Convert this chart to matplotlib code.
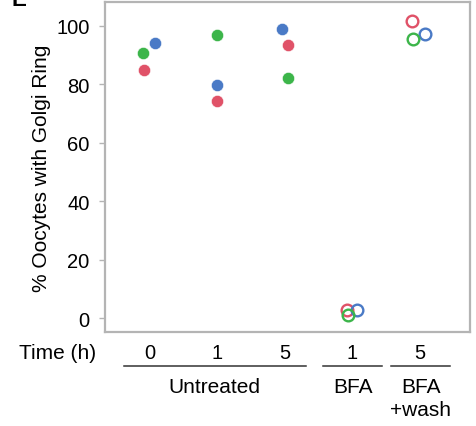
import matplotlib
matplotlib.use('Agg')
import matplotlib.pyplot as plt

plt.rcParams['font.family'] = ['Liberation Sans', 'DejaVu Sans']

# data
positions = [0, 1, 2, 3, 4]
time_labels = ['0', '1', '5', '1', '5']
blue = [94.2, 79.9, 99.0, 2.7, 97.3]
green = [90.8, 96.9, 82.2, 1.0, 95.6]
red = [85.0, 74.4, 93.5, 2.7, 101.8]
# horizontal jitter
blue_dx = [0.075, 0.0, -0.045, 0.075, 0.09]
green_dx = [-0.105, 0.0, 0.045, -0.06, -0.09]
red_dx = [-0.09, 0.0, 0.045, -0.075, -0.105]
filled = [True, True, True, False, False]
groups = [('Untreated', -0.39, 2.31), ('BFA', 2.57, 3.45), ('BFA\n+wash', 3.58, 4.46)]

colBlue = '#4a7ac6'
colGreen = '#3cb54a'
colRed = '#e05268'
colFrame = '#b4b4b4'
fs = 14.5

fig = plt.figure(figsize=(4.77, 4.27), dpi=100)
ax = fig.add_axes([0.220, 0.220, 0.765, 0.773])

for vals, dx, c in [(red, red_dx, colRed), (blue, blue_dx, colBlue), (green, green_dx, colGreen)]:
    for p, v, d, f in zip(positions, vals, dx, filled):
        if f:
            ax.plot(p + d, v, 'o', ms=8.8, color=c, mec='white', mew=0.4)
        else:
            ax.plot(p + d, v, 'o', ms=8.4, mfc='none', mec=c, mew=1.7)

ax.set_xlim(-0.67, 4.75)
ax.set_ylim(-4.8, 108.2)
ax.set_yticks([0, 20, 40, 60, 80, 100])
ax.set_xticks(positions, time_labels)
ax.tick_params(axis='x', length=0, pad=8, labelsize=fs)
ax.tick_params(axis='y', length=4, width=1, color=colFrame, labelsize=fs, pad=7)
for s in ax.spines.values():
    s.set_color(colFrame)
    s.set_linewidth(1.6)

ax.set_ylabel('% Oocytes with Golgi Ring', fontsize=fs + 0.5, labelpad=4)

tr = ax.get_xaxis_transform()
ax.text(-0.80, -0.061, 'Time (h)', transform=tr, ha='right', va='center', fontsize=fs + 0.5)
for name, x0, x1 in groups:
    ax.plot([x0, x1], [-0.103, -0.103], transform=tr, color='#333333', lw=1.1, clip_on=False)
    ax.text((x0 + x1) / 2, -0.135, name, transform=tr, ha='center', va='top',
            fontsize=fs + 0.5, linespacing=1.3)

fig.text(0.025, 1.0, 'E', fontsize=16, fontweight='bold', va='center', ha='left')

fig.savefig('out.png', dpi=100)
